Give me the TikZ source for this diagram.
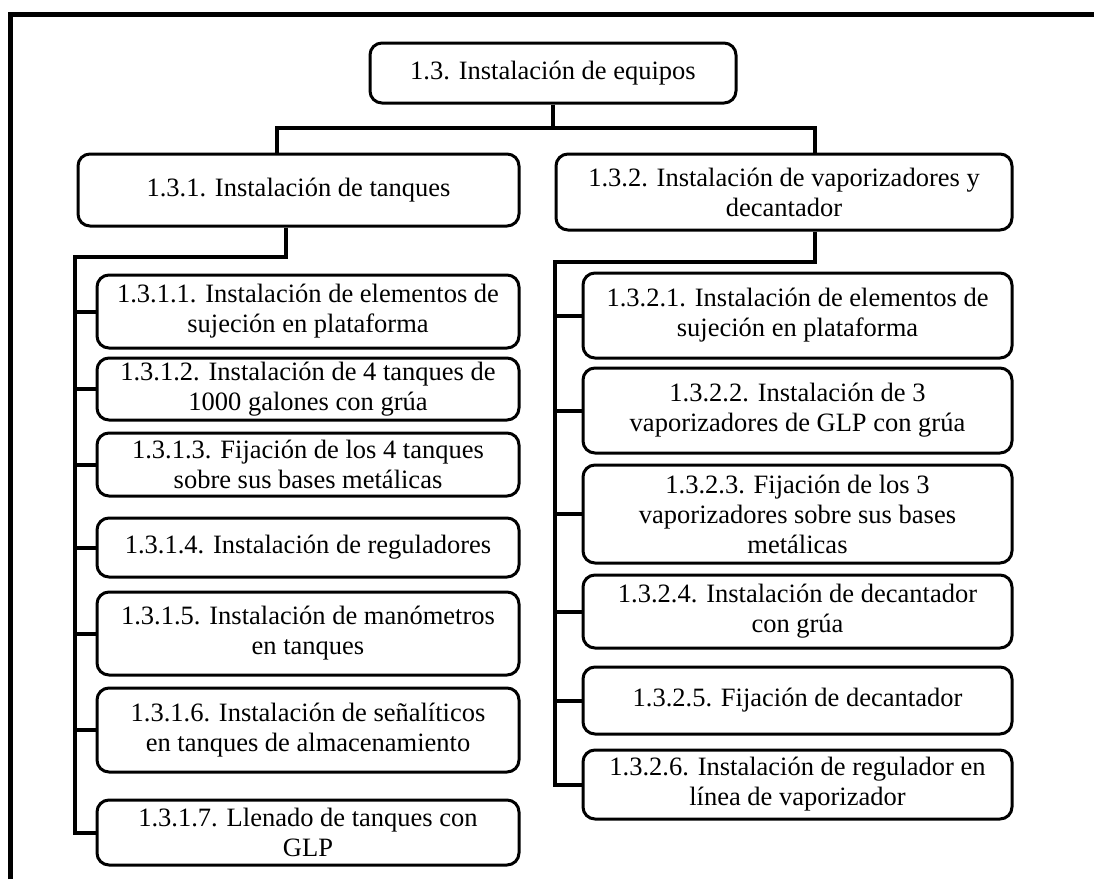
\documentclass[tikz,border=0pt]{standalone}
\usepackage{fontspec}
\setmainfont{Liberation Serif}
\usepackage{tikz}
\usetikzlibrary{positioning}

\tikzset{
	wbsbox/.style={rectangle,draw,line width=3pt,rounded corners=12pt,align=center,inner sep=0pt,font=\fontsize{26.5}{30}\selectfont},
	tqitem/.style={wbsbox,minimum width=422pt},
	vpitem/.style={wbsbox,minimum width=429pt},
	wbsline/.style={line width=4pt}
}

\begin{document}
\begin{tikzpicture}[x=1pt,y=-1pt]
	\useasboundingbox (0,0) rectangle (1094,879);
	\draw[line width=5pt] (10,879) -- (10,14.5) -- (1094,14.5);

	\begin{scope}[every node/.style={wbsbox}]
		\node[minimum width=366pt,minimum height=60pt] (Eq) at (553,73) {1.3. Instalación de equipos};
		\node[minimum width=441pt,minimum height=72pt] (Tq) at (298.5,190) {1.3.1. Instalación de tanques};
		\node[minimum width=456pt,minimum height=76pt] (Vp) at (784,192) {1.3.2. Instalación de vaporizadores y\\decantador};
	\end{scope}

	\node[tqitem,minimum height=73pt] (Tq1) at (308,311.5) {1.3.1.1. Instalación de elementos de\\sujeción en plataforma};
	\node[tqitem,minimum height=62pt] (Tq2) at (308,389) {1.3.1.2. Instalación de 4 tanques de\\1000 galones con grúa};
	\node[tqitem,minimum height=63pt] (Tq3) at (308,464.5) {1.3.1.3. Fijación de los 4 tanques\\sobre sus bases metálicas};
	\node[tqitem,minimum height=59pt] (Tq4) at (308,547.5) {1.3.1.4. Instalación de reguladores};
	\node[tqitem,minimum height=83pt] (Tq5) at (308,633.5) {1.3.1.5. Instalación de manómetros\\en tanques};
	\node[tqitem,minimum height=84pt] (Tq6) at (308,730) {1.3.1.6. Instalación de señalíticos\\en tanques de almacenamiento};
	\node[tqitem,minimum height=65pt] (Tq7) at (308,832.5) {1.3.1.7. Llenado de tanques con\\GLP};

	\node[vpitem,minimum height=85pt] (Vp1) at (797.5,315.5) {1.3.2.1. Instalación de elementos de\\sujeción en plataforma};
	\node[vpitem,minimum height=85pt] (Vp2) at (797.5,410.5) {1.3.2.2. Instalación de 3\\vaporizadores de GLP con grúa};
	\node[vpitem,minimum height=98pt] (Vp3) at (797.5,514) {1.3.2.3. Fijación de los 3\\vaporizadores sobre sus bases\\metálicas};
	\node[vpitem,minimum height=73pt] (Vp4) at (797.5,611.5) {1.3.2.4. Instalación de decantador\\con grúa};
	\node[vpitem,minimum height=67pt] (Vp5) at (797.5,700.5) {1.3.2.5. Fijación de decantador};
	\node[vpitem,minimum height=69pt] (Vp6) at (797.5,784.5) {1.3.2.6. Instalación de regulador en\\línea de vaporizador};

	\begin{scope}[wbsline]
	\coordinate (jT) at (277,128);
	\coordinate (jV) at (815,128);
	\draw (Eq.south) |- (jT) -- (jT |- Tq.north);
	\draw (Eq.south) |- (jV) -- (jV |- Vp.north);

	\coordinate (dT) at (286,257);
	\coordinate (lT) at (75,257);
	\draw (dT |- Tq.south) -- (dT) -- (lT) |- (Tq7.west);
	\foreach \n in {1,...,6}
		\draw (lT) |- (Tq\n.west);

	\coordinate (dV) at (815,262);
	\coordinate (lV) at (555,262);
	\draw (dV |- Vp.south) -- (dV) -- (lV) |- (Vp6.west);
	\foreach \n in {1,...,5}
		\draw (lV) |- (Vp\n.west);
	\end{scope}
\end{tikzpicture}
\end{document}
